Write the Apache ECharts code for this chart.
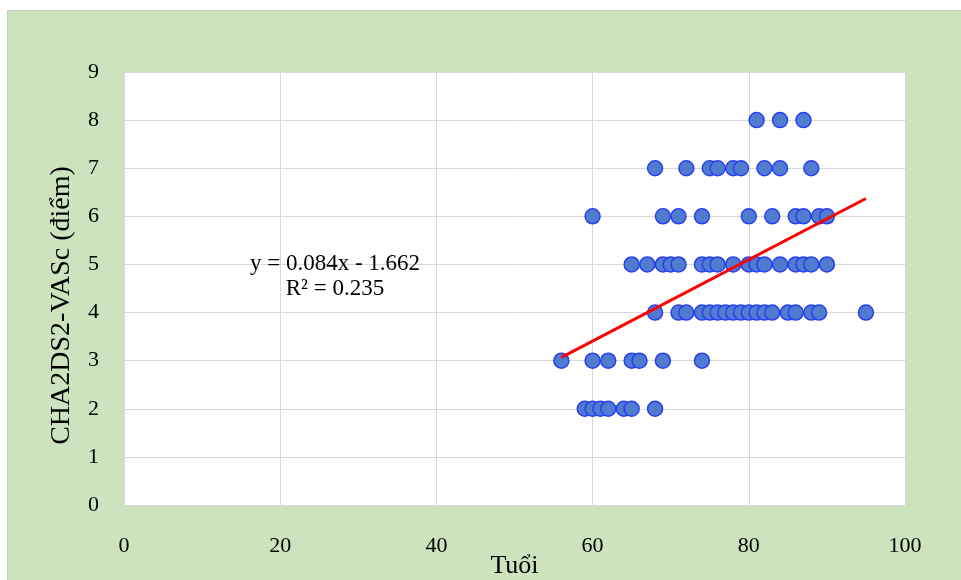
<!DOCTYPE html>
<html>
<head>
<meta charset="utf-8">
<script src="https://cdn.jsdelivr.net/npm/echarts@6/dist/echarts.min.js"></script>
<style>
html,body{margin:0;padding:0;background:#fff;}
#bg{position:absolute;left:7px;top:10px;width:954px;height:570px;background:#cce3be;border-top:1px solid #c8c8c8;border-left:1px solid #c8c8c8;box-sizing:border-box;}
#chart{position:absolute;left:0;top:0;width:961px;height:580px;}
</style>
</head>
<body>
<div id="bg"></div>
<div id="chart"></div>
<script>
// Ages (Tuổi) of patients at each CHA2DS2-VASc score
const scoreLevels = [2, 3, 4, 5, 6, 7, 8];
const agesAtScore2 = [59, 60, 61, 62, 64, 65, 68];
const agesAtScore3 = [56, 60, 62, 65, 66, 69, 74];
const agesAtScore4 = [68, 71, 72, 74, 75, 76, 77, 78, 79, 80, 81, 82, 83, 85, 86, 88, 89, 95];
const agesAtScore5 = [65, 67, 69, 70, 71, 74, 75, 76, 78, 80, 81, 82, 84, 86, 87, 88, 90];
const agesAtScore6 = [60, 69, 71, 74, 80, 83, 86, 87, 89, 90];
const agesAtScore7 = [68, 72, 75, 76, 78, 79, 82, 84, 88];
const agesAtScore8 = [81, 84, 87];
const agesByScore = [agesAtScore2, agesAtScore3, agesAtScore4, agesAtScore5, agesAtScore6, agesAtScore7, agesAtScore8];

// Linear trend line endpoints (age, score)
const trendX = [56, 95];
const trendY = [3.07, 6.37];
const trendLabel = 'y = 0.084x - 1.662\nR² = 0.235';

const xTicks = [0, 20, 40, 60, 80, 100];
const yTicks = [0, 1, 2, 3, 4, 5, 6, 7, 8, 9];
const xName = 'Tuổi';
const yName = 'CHA2DS2-VASc (điểm)';

const scatterData = [];
agesByScore.forEach((ages, i) => ages.forEach(a => scatterData.push([a, scoreLevels[i]])));
const trendData = trendX.map((x, i) => [x, trendY[i]]);

const font = '"Liberation Serif", "Times New Roman", serif';
const chart = echarts.init(document.getElementById('chart'));
chart.setOption({
  backgroundColor: 'transparent',
  animation: false,
  grid: {left: 124, right: 56, top: 72, bottom: 75, show: true, backgroundColor: '#ffffff', borderWidth: 0, containLabel: false, outerBoundsMode: 'none'},
  xAxis: {
    type: 'value', min: xTicks[0], max: xTicks[xTicks.length - 1], interval: 20,
    name: xName, nameLocation: 'middle', nameGap: 48, nameMoveOverlap: false,
    nameTextStyle: {fontFamily: font, fontSize: 26, color: '#000'},
    axisLine: {show: true, lineStyle: {color: '#d9d9d9'}},
    axisTick: {show: false},
    axisLabel: {fontFamily: font, fontSize: 22, color: '#000', margin: 30},
    splitLine: {show: true, lineStyle: {color: '#d9d9d9', width: 1}}
  },
  yAxis: {
    type: 'value', min: yTicks[0], max: yTicks[yTicks.length - 1], interval: 1,
    name: yName, nameLocation: 'middle', nameGap: 48, nameMoveOverlap: false,
    nameTextStyle: {fontFamily: font, fontSize: 28, color: '#000', padding: [0, 34, 0, 0]},
    axisLine: {show: true, lineStyle: {color: '#d9d9d9'}},
    axisTick: {show: false},
    axisLabel: {fontFamily: font, fontSize: 22, color: '#000', margin: 25},
    splitLine: {show: true, lineStyle: {color: '#d9d9d9', width: 1}}
  },
  graphic: [{
    type: 'text', x: 335, y: 251, z: 100,
    style: {text: trendLabel, font: '23px ' + font, fill: '#000', align: 'center', verticalAlign: 'top', lineHeight: 25}
  }],
  series: [{
    type: 'scatter', data: scatterData, symbol: 'circle', symbolSize: 15,
    itemStyle: {color: '#4f7ccf', borderColor: '#2a3ef0', borderWidth: 1.5, opacity: 1},
    z: 2
  }, {
    type: 'line', data: trendData, symbol: 'none',
    lineStyle: {color: '#ff0000', width: 3},
    z: 3
  }]
});
</script>
</body>
</html>
